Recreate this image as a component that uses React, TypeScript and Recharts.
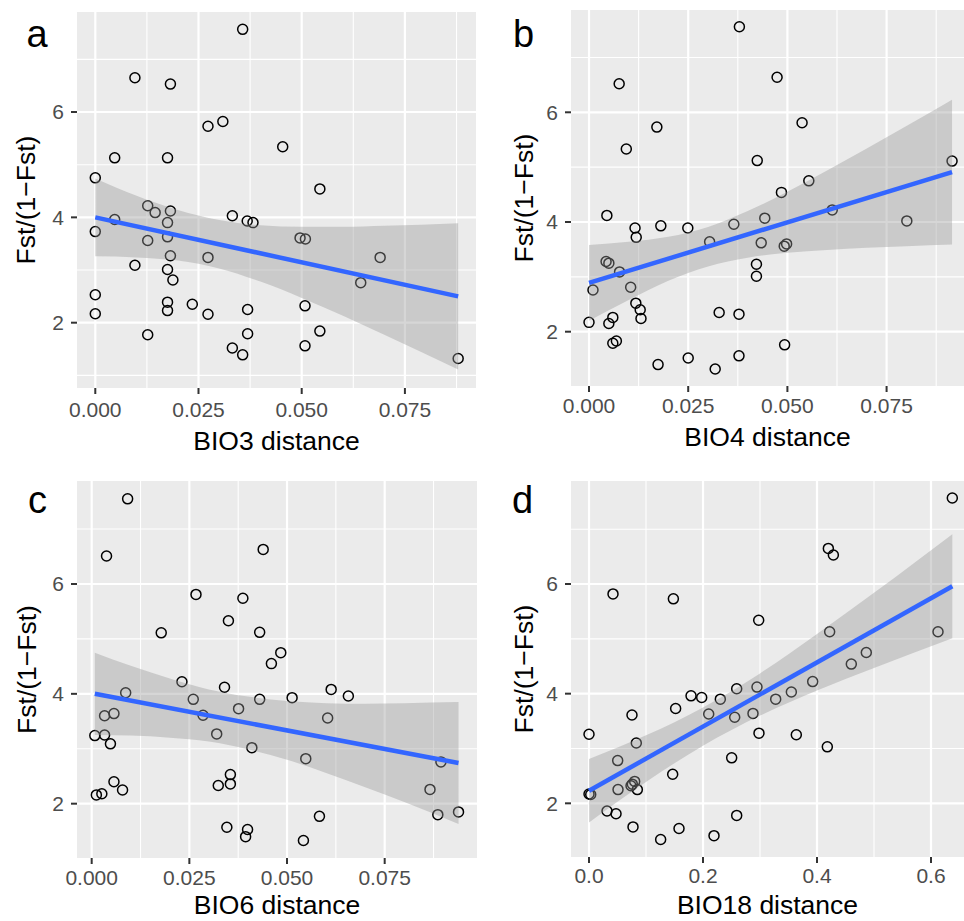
import React from 'react';
import { ComposedChart, Scatter, Line, Area, XAxis, YAxis, CartesianGrid } from 'recharts';

const FONT = '"Liberation Sans", Arial, Helvetica, sans-serif';

// ---------- shared axis values ----------
const yMajorTicks = [2, 4, 6];
const yMinorTicks = [1, 3, 5, 7];
const smallXMajor = [0, 0.025, 0.05, 0.075];
const smallXMinor = [0.0125, 0.0375, 0.0625, 0.0875];
const bio18XMajor = [0, 0.2, 0.4, 0.6];
const bio18XMinor = [0.1, 0.3, 0.5];

// ---------- panel a: BIO3 ----------
const bio3Points: [number, number][] = [
  [0.0357, 7.57], [0.0096, 6.65], [0.0182, 6.53], [0.0273, 5.73], [0.0309, 5.82],
  [0.0454, 5.34], [0.0047, 5.13], [0.0175, 5.13], [0.0, 4.75], [0.0544, 4.54],
  [0.0127, 4.22], [0.0145, 4.09], [0.0182, 4.12], [0.0047, 3.96], [0.0332, 4.03],
  [0.0368, 3.93], [0.0382, 3.9], [0.0175, 3.9], [0.0, 3.73], [0.0127, 3.56],
  [0.0175, 3.63], [0.0496, 3.61], [0.0509, 3.59], [0.0182, 3.27], [0.0273, 3.24],
  [0.069, 3.24], [0.0096, 3.09], [0.0175, 3.01], [0.0188, 2.81], [0.0643, 2.76],
  [0.0, 2.53], [0.0175, 2.39], [0.0175, 2.23], [0.0235, 2.35], [0.0369, 2.25],
  [0.0508, 2.32], [0.0, 2.17], [0.0273, 2.16], [0.0127, 1.77], [0.0369, 1.79],
  [0.0544, 1.84], [0.0332, 1.52], [0.0357, 1.39], [0.0508, 1.56], [0.0879, 1.32],
];
const bio3FitX = [0, 0.0879];
const bio3FitY = [4.0, 2.5];
const bio3BandX = [0, 0.01, 0.02, 0.03, 0.04, 0.05, 0.06, 0.07, 0.0879];
const bio3BandLow = [3.26, 3.24, 3.18, 3.03, 2.78, 2.47, 2.13, 1.77, 1.11];
const bio3BandHigh = [4.74, 4.41, 4.14, 3.95, 3.85, 3.82, 3.82, 3.84, 3.89];

// ---------- panel b: BIO4 ----------
const bio4Points: [number, number][] = [
  [0.0379, 7.56], [0.0474, 6.64], [0.0076, 6.52], [0.0537, 5.81], [0.0171, 5.73],
  [0.0094, 5.33], [0.0424, 5.12], [0.0915, 5.11], [0.0554, 4.75], [0.0485, 4.54],
  [0.0613, 4.22], [0.0045, 4.12], [0.0443, 4.07], [0.0801, 4.02], [0.0365, 3.96],
  [0.0181, 3.93], [0.0116, 3.89], [0.0249, 3.89], [0.0119, 3.72], [0.0304, 3.64],
  [0.0434, 3.62], [0.0498, 3.6], [0.0492, 3.56], [0.0043, 3.28], [0.005, 3.25],
  [0.0422, 3.23], [0.0077, 3.09], [0.0422, 3.01], [0.0105, 2.81], [0.001, 2.76],
  [0.0118, 2.52], [0.0328, 2.35], [0.0378, 2.32], [0.0129, 2.4], [0.006, 2.26],
  [0.0131, 2.24], [0.0, 2.17], [0.005, 2.15], [0.006, 1.79], [0.0069, 1.83],
  [0.0493, 1.76], [0.025, 1.52], [0.0378, 1.56], [0.0174, 1.4], [0.0318, 1.32],
];
const bio4FitX = [0, 0.0915];
const bio4FitY = [2.89, 4.91];
const bio4BandX = [0, 0.01, 0.02, 0.03, 0.04, 0.05, 0.06, 0.07, 0.08, 0.0915];
const bio4BandLow = [2.2, 2.58, 2.93, 3.19, 3.35, 3.44, 3.49, 3.53, 3.56, 3.59];
const bio4BandHigh = [3.58, 3.64, 3.73, 3.91, 4.2, 4.55, 4.94, 5.34, 5.75, 6.23];

// ---------- panel c: BIO6 ----------
const bio6Points: [number, number][] = [
  [0.0092, 7.55], [0.0038, 6.51], [0.0439, 6.63], [0.0267, 5.81], [0.0387, 5.74],
  [0.035, 5.33], [0.0178, 5.11], [0.043, 5.12], [0.0484, 4.75], [0.046, 4.55],
  [0.0231, 4.22], [0.034, 4.12], [0.0613, 4.08], [0.0087, 4.02], [0.0657, 3.96],
  [0.0513, 3.93], [0.026, 3.9], [0.043, 3.9], [0.0376, 3.73], [0.0285, 3.61],
  [0.0057, 3.64], [0.0033, 3.6], [0.0604, 3.56], [0.032, 3.27], [0.0008, 3.24],
  [0.0033, 3.25], [0.0048, 3.09], [0.041, 3.02], [0.0548, 2.82], [0.0894, 2.76],
  [0.0355, 2.53], [0.0057, 2.4], [0.0355, 2.36], [0.0324, 2.33], [0.0866, 2.26],
  [0.0079, 2.25], [0.0012, 2.16], [0.0026, 2.18], [0.0939, 1.85], [0.0886, 1.8],
  [0.0583, 1.77], [0.0346, 1.57], [0.0399, 1.53], [0.0394, 1.4], [0.0542, 1.33],
];
const bio6FitX = [0.0008, 0.0939];
const bio6FitY = [4.0, 2.74];
const bio6BandX = [0.0008, 0.01, 0.02, 0.03, 0.04, 0.05, 0.06, 0.07, 0.08, 0.0939];
const bio6BandLow = [3.25, 3.24, 3.2, 3.13, 2.99, 2.8, 2.56, 2.3, 2.03, 1.63];
const bio6BandHigh = [4.75, 4.51, 4.28, 4.08, 3.95, 3.87, 3.83, 3.82, 3.83, 3.85];

// ---------- panel d: BIO18 ----------
const bio18Points: [number, number][] = [
  [0.6374, 7.57], [0.4199, 6.65], [0.4287, 6.53], [0.0421, 5.82], [0.148, 5.73],
  [0.2977, 5.34], [0.4222, 5.13], [0.6123, 5.13], [0.4865, 4.75], [0.4602, 4.54],
  [0.3924, 4.22], [0.2947, 4.12], [0.2591, 4.09], [0.355, 4.03], [0.179, 3.96],
  [0.1977, 3.93], [0.2304, 3.9], [0.3275, 3.9], [0.152, 3.73], [0.21, 3.63],
  [0.2877, 3.64], [0.0754, 3.61], [0.2556, 3.57], [0.2982, 3.28], [0.0, 3.26],
  [0.3637, 3.25], [0.083, 3.1], [0.4181, 3.03], [0.2503, 2.83], [0.0503, 2.78],
  [0.1468, 2.53], [0.0801, 2.4], [0.076, 2.35], [0.0737, 2.32], [0.0848, 2.25],
  [0.0509, 2.25], [0.0, 2.17], [0.003, 2.16], [0.0316, 1.86], [0.0474, 1.81],
  [0.2591, 1.78], [0.0772, 1.57], [0.1579, 1.54], [0.2193, 1.41], [0.1257, 1.34],
];
const bio18FitX = [0, 0.6374];
const bio18FitY = [2.23, 5.96];
const bio18BandX = [0, 0.05, 0.1, 0.2, 0.3, 0.4, 0.5, 0.6374];
const bio18BandLow = [1.65, 2.03, 2.39, 3.05, 3.6, 4.06, 4.47, 5.01];
const bio18BandHigh = [2.81, 3.02, 3.24, 3.75, 4.37, 5.09, 5.84, 6.91];

const panelLetters = ['a', 'b', 'c', 'd'];
const xTitles = ['BIO3 distance', 'BIO4 distance', 'BIO6 distance', 'BIO18 distance'];
const yTitle = 'Fst/(1\u2212Fst)';

// ---------- helpers ----------
const toPoints = (pts: [number, number][]) => pts.map(([x, y]) => ({ x, y }));
const toFit = (xs: number[], ys: number[]) => xs.map((x, i) => ({ x, y: ys[i] }));
const toBand = (xs: number[], lo: number[], hi: number[]) =>
  xs.map((x, i) => ({ x, band: [lo[i], hi[i]] }));

const renderCircle = (props: any) => {
  const { cx, cy } = props;
  if (cx == null || cy == null) return <g />;
  return <circle cx={cx} cy={cy} r={5} fill="none" stroke="#000000" strokeWidth={1.5} />;
};

type PanelProps = {
  left: number;
  top: number;
  width: number;
  height: number;
  marginTop: number;
  marginRight: number;
  yAxisWidth: number;
  plotBottom: number;
  xDomain: [number, number];
  yDomain: [number, number];
  xMajor: number[];
  xMinor: number[];
  xDigits: number;
  xTickMargin: number;
  xTitle: string;
  xTitleBaseline: number;
  yTitleBaseline: number;
  points: { x: number; y: number }[];
  fit: { x: number; y: number }[];
  band: { x: number; band: number[] }[];
};

function Panel(p: PanelProps) {
  const plotLeft = p.yAxisWidth;
  const plotRight = p.width - p.marginRight;
  const plotTop = p.marginTop;
  const plotBottom = p.plotBottom;
  const xAxisHeight = p.height - plotBottom;
  const cx = (plotLeft + plotRight) / 2;
  const cy = (plotTop + plotBottom) / 2;
  const tickStyle = { fill: '#4D4D4D', fontSize: 21, fontFamily: FONT };

  const xLabel = () => (
    <text x={cx} y={p.xTitleBaseline} textAnchor="middle" fill="#000000" fontSize={26.5} fontFamily={FONT}>
      {p.xTitle}
    </text>
  );
  const yLabel = () => (
    <text
      x={p.yTitleBaseline}
      y={cy}
      transform={`rotate(-90, ${p.yTitleBaseline}, ${cy})`}
      textAnchor="middle"
      fill="#000000"
      fontSize={26.5}
      fontFamily={FONT}
    >
      {yTitle}
    </text>
  );

  return (
    <div style={{ position: 'absolute', left: p.left, top: p.top, width: p.width, height: p.height }}>
      <ComposedChart
        width={p.width}
        height={p.height}
        data={p.band}
        margin={{ top: p.marginTop, right: p.marginRight, bottom: 0, left: 0 }}
      >
        <CartesianGrid
          fill="#EBEBEB"
          fillOpacity={1}
          stroke="#FFFFFF"
          strokeWidth={1.1}
          horizontalValues={yMinorTicks}
          verticalValues={p.xMinor}
        />
        <CartesianGrid
          stroke="#FFFFFF"
          strokeWidth={2.2}
          horizontalValues={yMajorTicks}
          verticalValues={p.xMajor}
        />
        <XAxis
          type="number"
          dataKey="x"
          domain={p.xDomain}
          allowDataOverflow
          ticks={p.xMajor}
          interval={0}
          tickFormatter={(v: number) => v.toFixed(p.xDigits)}
          height={xAxisHeight}
          axisLine={false}
          tickLine={{ stroke: '#333333', strokeWidth: 2 }}
          tickSize={6}
          tickMargin={p.xTickMargin}
          tick={tickStyle}
          label={xLabel}
        />
        <YAxis
          type="number"
          domain={p.yDomain}
          allowDataOverflow
          ticks={yMajorTicks}
          interval={0}
          width={p.yAxisWidth}
          axisLine={false}
          tickLine={{ stroke: '#333333', strokeWidth: 2 }}
          tickSize={6}
          tickMargin={7}
          tick={tickStyle}
          label={yLabel}
        />
        <Scatter data={p.points} dataKey="y" shape={renderCircle} isAnimationActive={false} zIndex={50} />
        <Area
          dataKey="band"
          type="monotone"
          fill="#999999"
          fillOpacity={0.4}
          stroke="none"
          dot={false}
          activeDot={false}
          isAnimationActive={false}
        />
        <Line
          data={p.fit}
          dataKey="y"
          type="linear"
          stroke="#3366FF"
          strokeWidth={4.5}
          dot={false}
          activeDot={false}
          isAnimationActive={false}
        />
      </ComposedChart>
    </div>
  );
}

export default function App() {
  return (
    <div style={{ position: 'absolute', left: 0, top: 0, width: 964, height: 921, background: '#FFFFFF', overflow: 'hidden' }}>
      <Panel
        left={0}
        top={0}
        width={482}
        height={462}
        marginTop={12}
        marginRight={6}
        yAxisWidth={77}
        plotBottom={388}
        xDomain={[-0.00443, 0.09222]}
        yDomain={[0.76, 7.899]}
        xMajor={smallXMajor}
        xMinor={smallXMinor}
        xDigits={3}
        xTickMargin={8}
        xTitle={xTitles[0]}
        xTitleBaseline={450}
        yTitleBaseline={35}
        points={toPoints(bio3Points)}
        fit={toFit(bio3FitX, bio3FitY)}
        band={toBand(bio3BandX, bio3BandLow, bio3BandHigh)}
      />
      <Panel
        left={482}
        top={0}
        width={482}
        height={462}
        marginTop={10}
        marginRight={0}
        yAxisWidth={89}
        plotBottom={386}
        xDomain={[-0.00454, 0.09451]}
        yDomain={[1.01, 7.865]}
        xMajor={smallXMajor}
        xMinor={smallXMinor}
        xDigits={3}
        xTickMargin={6}
        xTitle={xTitles[1]}
        xTitleBaseline={446}
        yTitleBaseline={51}
        points={toPoints(bio4Points)}
        fit={toFit(bio4FitX, bio4FitY)}
        band={toBand(bio4BandX, bio4BandLow, bio4BandHigh)}
      />
      <Panel
        left={0}
        top={460}
        width={482}
        height={461}
        marginTop={21}
        marginRight={5}
        yAxisWidth={77}
        plotBottom={398}
        xDomain={[-0.00376, 0.09863]}
        yDomain={[1.011, 7.875]}
        xMajor={smallXMajor}
        xMinor={smallXMinor}
        xDigits={3}
        xTickMargin={6}
        xTitle={xTitles[2]}
        xTitleBaseline={454}
        yTitleBaseline={36}
        points={toPoints(bio6Points)}
        fit={toFit(bio6FitX, bio6FitY)}
        band={toBand(bio6BandX, bio6BandLow, bio6BandHigh)}
      />
      <Panel
        left={482}
        top={460}
        width={482}
        height={461}
        marginTop={21}
        marginRight={0}
        yAxisWidth={89}
        plotBottom={397}
        xDomain={[-0.0316, 0.6579]}
        yDomain={[1.021, 7.879]}
        xMajor={bio18XMajor}
        xMinor={bio18XMinor}
        xDigits={1}
        xTickMargin={5}
        xTitle={xTitles[3]}
        xTitleBaseline={454}
        yTitleBaseline={51}
        points={toPoints(bio18Points)}
        fit={toFit(bio18FitX, bio18FitY)}
        band={toBand(bio18BandX, bio18BandLow, bio18BandHigh)}
      />
      <svg
        width={964}
        height={921}
        style={{ position: 'absolute', left: 0, top: 0, pointerEvents: 'none' }}
      >
        <text x={26.5} y={47} fontSize={38} fontFamily={FONT} fill="#000000">{panelLetters[0]}</text>
        <text x={513} y={47} fontSize={38} fontFamily={FONT} fill="#000000">{panelLetters[1]}</text>
        <text x={28} y={513} fontSize={38} fontFamily={FONT} fill="#000000">{panelLetters[2]}</text>
        <text x={512} y={513} fontSize={38} fontFamily={FONT} fill="#000000">{panelLetters[3]}</text>
      </svg>
    </div>
  );
}
